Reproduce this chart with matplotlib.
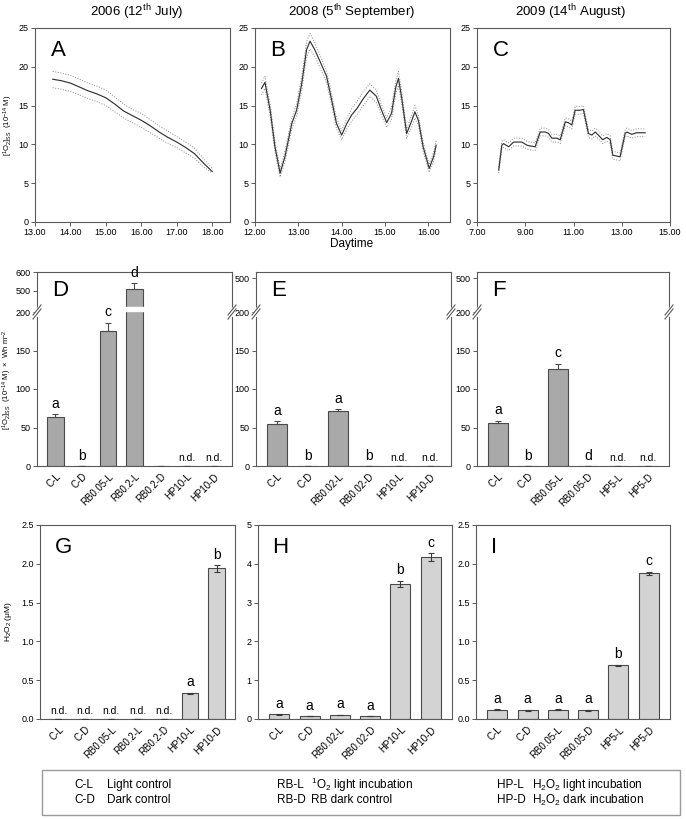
import matplotlib
matplotlib.use("Agg")
import matplotlib.pyplot as plt
from matplotlib.lines import Line2D
from matplotlib.patches import Rectangle
from matplotlib.transforms import blended_transform_factory
import numpy as np

plt.rcParams["font.family"] = ["Liberation Sans", "DejaVu Sans"]
plt.rcParams["mathtext.fontset"] = "custom"
plt.rcParams["mathtext.rm"] = "Liberation Sans"
plt.rcParams["mathtext.it"] = "Liberation Sans:italic"
plt.rcParams["mathtext.default"] = "regular"

# ---- data: time series (top row) ----
a_x = [13.5, 13.75, 14.0, 14.25, 14.5, 14.75, 15.0, 15.25, 15.5, 15.75,
       16.0, 16.25, 16.5, 16.75, 17.0, 17.25, 17.5, 17.75, 18.0]
a_y = [18.4, 18.2, 17.9, 17.4, 16.9, 16.5, 16.0, 15.2, 14.3, 13.7,
       13.1, 12.4, 11.6, 10.9, 10.3, 9.6, 8.8, 7.6, 6.5]
a_up = [19.4, 19.2, 18.9, 18.4, 17.9, 17.5, 17.0, 16.1, 15.2, 14.5,
        14.0, 13.2, 12.4, 11.7, 11.0, 10.3, 9.5, 8.2, 6.9]
a_lo = [17.3, 17.1, 16.8, 16.4, 15.9, 15.5, 15.0, 14.2, 13.4, 12.8,
        12.2, 11.5, 10.8, 10.1, 9.6, 8.9, 8.2, 7.1, 6.3]

b_x = [12.15, 12.23, 12.35, 12.46, 12.58, 12.69, 12.85, 12.96, 13.08, 13.19,
       13.27, 13.38, 13.5, 13.65, 13.77, 13.88, 14.0, 14.12, 14.23, 14.35,
       14.5, 14.65, 14.8, 14.92, 15.04, 15.15, 15.25, 15.31, 15.38, 15.5,
       15.62, 15.69, 15.77, 15.88, 16.02, 16.12, 16.18]
b_y = [17.2, 18.0, 14.4, 9.7, 6.3, 8.4, 12.7, 14.4, 17.9, 22.2,
       23.3, 22.2, 20.7, 18.8, 15.7, 12.7, 11.2, 12.7, 13.8, 14.6,
       15.9, 17.0, 16.2, 14.4, 12.8, 14.0, 17.4, 18.5, 16.2, 11.4,
       13.1, 14.2, 13.1, 9.7, 6.9, 8.4, 9.9]
b_up = [17.9, 18.8, 15.2, 10.4, 6.9, 9.1, 13.4, 15.2, 18.8, 23.2,
        24.3, 23.1, 21.5, 19.5, 16.4, 13.4, 11.8, 13.4, 14.6, 15.5,
        16.8, 17.8, 17.0, 15.1, 13.4, 14.8, 18.3, 19.4, 17.0, 12.0,
        13.9, 15.0, 13.8, 10.3, 7.4, 9.0, 10.5]
b_lo = [16.4, 17.2, 13.6, 9.0, 5.8, 7.7, 12.0, 13.6, 17.0, 21.2,
        22.3, 21.3, 19.9, 18.0, 15.0, 12.0, 10.6, 12.0, 13.0, 13.8,
        15.0, 16.2, 15.4, 13.7, 12.2, 13.2, 16.5, 17.6, 15.4, 10.8,
        12.3, 13.4, 12.4, 9.1, 6.4, 7.8, 9.3]

c_x = [7.9, 8.03, 8.1, 8.31, 8.52, 8.66, 8.86, 9.07, 9.2, 9.41,
       9.62, 9.83, 9.97, 10.1, 10.31, 10.45, 10.66, 10.79, 10.93, 11.07,
       11.28, 11.41, 11.62, 11.76, 11.9, 12.03, 12.21, 12.38, 12.52, 12.63,
       12.79, 12.93, 13.14, 13.21, 13.41, 13.62, 13.97]
c_y = [6.7, 9.9, 10.1, 9.7, 10.3, 10.3, 10.3, 9.9, 9.8, 9.7,
       11.6, 11.6, 11.4, 10.8, 10.8, 10.6, 12.9, 12.8, 12.5, 14.4,
       14.4, 14.5, 11.4, 11.2, 11.6, 11.2, 10.6, 10.9, 10.6, 8.6,
       8.5, 8.4, 11.4, 11.6, 11.3, 11.5, 11.5]
c_up = [7.1, 10.4, 10.6, 10.2, 10.8, 10.8, 10.8, 10.4, 10.3, 10.2,
        12.1, 12.1, 11.9, 11.3, 11.3, 11.1, 13.4, 13.3, 13.0, 14.9,
        14.9, 15.0, 11.9, 11.7, 12.1, 11.7, 11.1, 11.4, 11.1, 9.1,
        9.0, 8.9, 11.9, 12.1, 11.8, 12.0, 12.0]
c_lo = [6.3, 9.4, 9.6, 9.2, 9.8, 9.8, 9.8, 9.4, 9.3, 9.2,
        11.1, 11.1, 10.9, 10.3, 10.3, 10.1, 12.4, 12.3, 12.0, 13.9,
        13.9, 14.0, 10.9, 10.7, 11.1, 10.7, 10.1, 10.4, 10.1, 8.1,
        8.0, 7.9, 10.9, 11.1, 10.8, 11.0, 11.0]

# ---- data: steady state singlet oxygen x irradiance (middle row) ----
d_cats = ["C-L", "C-D", "RB0.05-L", "RB0.2-L", "RB0.2-D", "HP10-L", "HP10-D"]
d_vals = [63, 0, 175, 510, 0, 0, 0]
d_err = [4, 0, 11, 28, 0, 0, 0]
d_lab = ["a", "b", "c", "d", "", "n.d.", "n.d."]

e_cats = ["C-L", "C-D", "RB0.02-L", "RB0.02-D", "HP10-L", "HP10-D"]
e_vals = [55, 0, 71, 0, 0, 0]
e_err = [3, 0, 3, 0, 0, 0]
e_lab = ["a", "b", "a", "b", "n.d.", "n.d."]

f_cats = ["C-L", "C-D", "RB0.05-L", "RB0.05-D", "HP5-L", "HP5-D"]
f_vals = [56, 0, 126, 0, 0, 0]
f_err = [3, 0, 7, 0, 0, 0]
f_lab = ["a", "b", "c", "d", "n.d.", "n.d."]

# ---- data: H2O2 (bottom row) ----
g_cats = d_cats
g_vals = [0, 0, 0, 0, 0, 0.33, 1.94]
g_err = [0, 0, 0, 0, 0, 0.006, 0.04]
g_lab = ["n.d.", "n.d.", "n.d.", "n.d.", "n.d.", "a", "b"]

h_cats = e_cats
h_vals = [0.12, 0.07, 0.10, 0.07, 3.48, 4.17]
h_err = [0.005, 0.005, 0.005, 0.005, 0.08, 0.10]
h_lab = ["a", "a", "a", "a", "b", "c"]

i_cats = f_cats
i_vals = [0.12, 0.11, 0.12, 0.11, 0.69, 1.88]
i_err = [0.003, 0.01, 0.003, 0.01, 0.01, 0.02]
i_lab = ["a", "a", "a", "a", "b", "c"]

W, H = 686, 819
fig = plt.figure(figsize=(W / 100, H / 100), dpi=100)

SPINE = "#5a5a5a"
TICKFS = 6.5


def box(l, t, r, b):
    return [l / W, 1 - b / H, (r - l) / W, (b - t) / H]


def ftext(x, y, s, **kw):
    fig.text(x / W, 1 - y / H, s, **kw)


def style(ax):
    for s in ax.spines.values():
        s.set_color(SPINE)
        s.set_linewidth(0.8)
    ax.tick_params(axis="both", labelsize=TICKFS, width=0.7, length=3,
                   color=SPINE, direction="out", top=False, right=False, pad=1.5)


def line_panel(rect, x, y, up, lo, xlim, xticks, letter):
    ax = fig.add_axes(box(*rect))
    ax.plot(x, up, color="#888888", lw=0.7, ls=":")
    ax.plot(x, lo, color="#888888", lw=0.7, ls=":")
    ax.plot(x, y, color="#333333", lw=0.85, solid_joinstyle="round")
    ax.set_xlim(*xlim)
    ax.set_ylim(0, 25)
    ax.set_yticks([0, 5, 10, 15, 20, 25])
    ax.set_xticks(xticks)
    ax.set_xticklabels(["%.2f" % t for t in xticks])
    style(ax)
    ax.text(0.08, 0.885, letter, transform=ax.transAxes, fontsize=16,
            ha="left", va="center")
    return ax


line_panel((35, 28, 230, 222), a_x, a_y, a_up, a_lo, (13, 18.5),
           [13, 14, 15, 16, 17, 18], "A")
line_panel((255, 28, 450, 222), b_x, b_y, b_up, b_lo, (12, 16.5),
           [12, 13, 14, 15, 16], "B")
line_panel((477, 28, 670, 222), c_x, c_y, c_up, c_lo, (7, 15),
           [7, 9, 11, 13, 15], "C")

ftext(137, 12, "2006 (12$^{th}$ July)", fontsize=9.5, ha="center", va="center")
ftext(352, 12, "2008 (5$^{th}$ September)", fontsize=9.5, ha="center", va="center")
ftext(571, 12, "2009 (14$^{th}$ August)", fontsize=9.5, ha="center", va="center")
ftext(352, 244, "Daytime", fontsize=8.5, ha="center", va="center")
ftext(8, 125, r"[$^{1}$O$_{2}$]$_{SS}$  (10$^{-14}$ M)", fontsize=5.5,
      rotation=90, ha="center", va="center")


def break_marks(xp, yp):
    fig.add_artist(Line2D([(xp - 1) / W, (xp + 1) / W],
                          [1 - (yp - 2.5) / H, 1 - (yp + 2.5) / H],
                          color="white", lw=3, zorder=10))
    for dy in (-2, 2):
        fig.add_artist(Line2D([(xp - 4) / W, (xp + 4) / W],
                              [1 - (yp + dy + 5) / H, 1 - (yp + dy - 5) / H],
                              color=SPINE, lw=0.8, zorder=11))


def xlabels(ax, cats):
    ax.set_xticks(np.arange(len(cats)))
    ax.set_xticklabels(cats, rotation=45, ha="right", rotation_mode="anchor",
                       fontsize=7)
    ax.tick_params(axis="x", length=0, pad=4)


def annotate(ax, xs, tops, labs):
    for xi, t, s in zip(xs, tops, labs):
        if s:
            ax.annotate(s, (xi, t), xytext=(0, 2.5), textcoords="offset points",
                        ha="center", va="bottom",
                        fontsize=7.5 if s == "n.d." else 10)


def broken_panel(l, r, cats, vals, err, labs, hi_lim, hi_ticks, letter):
    t, mid, b = 272, 309, 466
    n = len(cats)
    xs = np.arange(n)
    xl = (-0.7, n - 0.3)
    w = 0.62 if n == 7 else 0.66
    lo_top = 200 * (b - mid) / (b - 312)

    ax_hi = fig.add_axes(box(l, t, r, mid))
    ax_lo = fig.add_axes(box(l, mid, r, b))
    ax_lo.set_zorder(2)
    ax_lo.patch.set_alpha(0)
    for ax in (ax_hi, ax_lo):
        ax.bar(xs, vals, width=w, color="#a9a9a9", edgecolor="#4a4a4a",
               linewidth=0.8, zorder=2)
        ax.errorbar(xs, vals, yerr=[np.zeros(n), err], fmt="none",
                    ecolor="#4a4a4a", elinewidth=0.8, capsize=2.5,
                    capthick=0.8, zorder=3)
        ax.set_xlim(*xl)
        style(ax)
    ax_hi.set_ylim(*hi_lim)
    ax_hi.set_yticks(hi_ticks)
    ax_hi.spines["bottom"].set_visible(False)
    ax_hi.tick_params(axis="x", bottom=False, labelbottom=False)
    ax_lo.set_ylim(0, lo_top)
    ax_lo.set_yticks([0, 50, 100, 150, 200])
    ax_lo.spines["top"].set_visible(False)
    xlabels(ax_lo, cats)

    # white gap through bars that cross the break
    tr = blended_transform_factory(ax_lo.transData, ax_lo.transAxes)
    for xi, v in zip(xs, vals):
        if v > lo_top:
            ax_lo.add_patch(Rectangle((xi - w / 2 - 0.05, 0.985), w + 0.1, 0.03,
                                      transform=tr, color="white",
                                      clip_on=False, zorder=6))

    tops = [v + e for v, e in zip(vals, err)]
    lo_idx = [i for i in range(n) if tops[i] <= lo_top]
    hi_idx = [i for i in range(n) if tops[i] > lo_top]
    annotate(ax_lo, [xs[i] for i in lo_idx], [tops[i] for i in lo_idx],
             [labs[i] for i in lo_idx])
    annotate(ax_hi, [xs[i] for i in hi_idx], [tops[i] for i in hi_idx],
             [labs[i] for i in hi_idx])

    break_marks(l, 312)
    break_marks(r, 312)
    ftext(l + 15, 290, letter, fontsize=16, ha="left", va="center")
    return ax_lo


broken_panel(37, 232, d_cats, d_vals, d_err, d_lab, (400, 600), [500, 600], "D")
broken_panel(256, 451, e_cats, e_vals, e_err, e_lab, (400, 520), [500], "E")
broken_panel(477, 669, f_cats, f_vals, f_err, f_lab, (400, 520), [500], "F")
ftext(7, 380, r"[$^{1}$O$_{2}$]$_{SS}$  (10$^{-14}$ M)  $\times$  Wh m$^{-2}$",
      fontsize=5.5, rotation=90, ha="center", va="center")


def h2o2_panel(rect, cats, vals, err, labs, ymax, yticks, fmt, letter):
    ax = fig.add_axes(box(*rect))
    n = len(cats)
    xs = np.arange(n)
    w = 0.62 if n == 7 else 0.66
    ax.bar(xs, vals, width=w, color="#d3d3d3", edgecolor="#4a4a4a",
           linewidth=0.8, zorder=2)
    ax.errorbar(xs, vals, yerr=err, fmt="none", ecolor="#3a3a3a",
                elinewidth=0.8, capsize=2.5, capthick=0.8, zorder=3)
    ax.set_xlim(-0.7, n - 0.3)
    ax.set_ylim(0, ymax)
    ax.set_yticks(yticks)
    ax.set_yticklabels([fmt % t for t in yticks])
    style(ax)
    xlabels(ax, cats)
    annotate(ax, xs, [v + e for v, e in zip(vals, err)], labs)
    ax.text(0.075, 0.885, letter, transform=ax.transAxes, fontsize=16,
            ha="left", va="center")
    return ax


h2o2_panel((40, 525, 235, 719), g_cats, g_vals, g_err, g_lab, 2.5,
           [0, 0.5, 1.0, 1.5, 2.0, 2.5], "%.1f", "G")
h2o2_panel((258, 525, 452, 719), h_cats, h_vals, h_err, h_lab, 5,
           [0, 1, 2, 3, 4, 5], "%d", "H")
h2o2_panel((476, 525, 670, 719), i_cats, i_vals, i_err, i_lab, 2.5,
           [0, 0.5, 1.0, 1.5, 2.0, 2.5], "%.1f", "I")
ftext(9, 622, r"H$_2$O$_2$ ($\mu$M)", fontsize=6, rotation=90,
      ha="center", va="center")

# legend box
fig.add_artist(Rectangle((42 / W, 1 - 815 / H), (680 - 42) / W, 45 / H,
                         transform=fig.transFigure, fill=False,
                         edgecolor="#999999", lw=1))
leg_rows = [
    [(74, "C-L"), (107, "Light control"), (277, "RB-L"),
     (311, "$^{1}$O$_{2}$ light incubation"), (497, "HP-L"),
     (532, "H$_2$O$_2$ light incubation")],
    [(74, "C-D"), (107, "Dark control"), (277, "RB-D"),
     (311, "RB dark control"), (497, "HP-D"),
     (532, "H$_2$O$_2$ dark incubation")],
]
for yrow, row in zip((785, 800), leg_rows):
    for xp, s in row:
        ftext(xp, yrow, s, fontsize=8.5, ha="left", va="center")

fig.savefig("out.png", dpi=100)
